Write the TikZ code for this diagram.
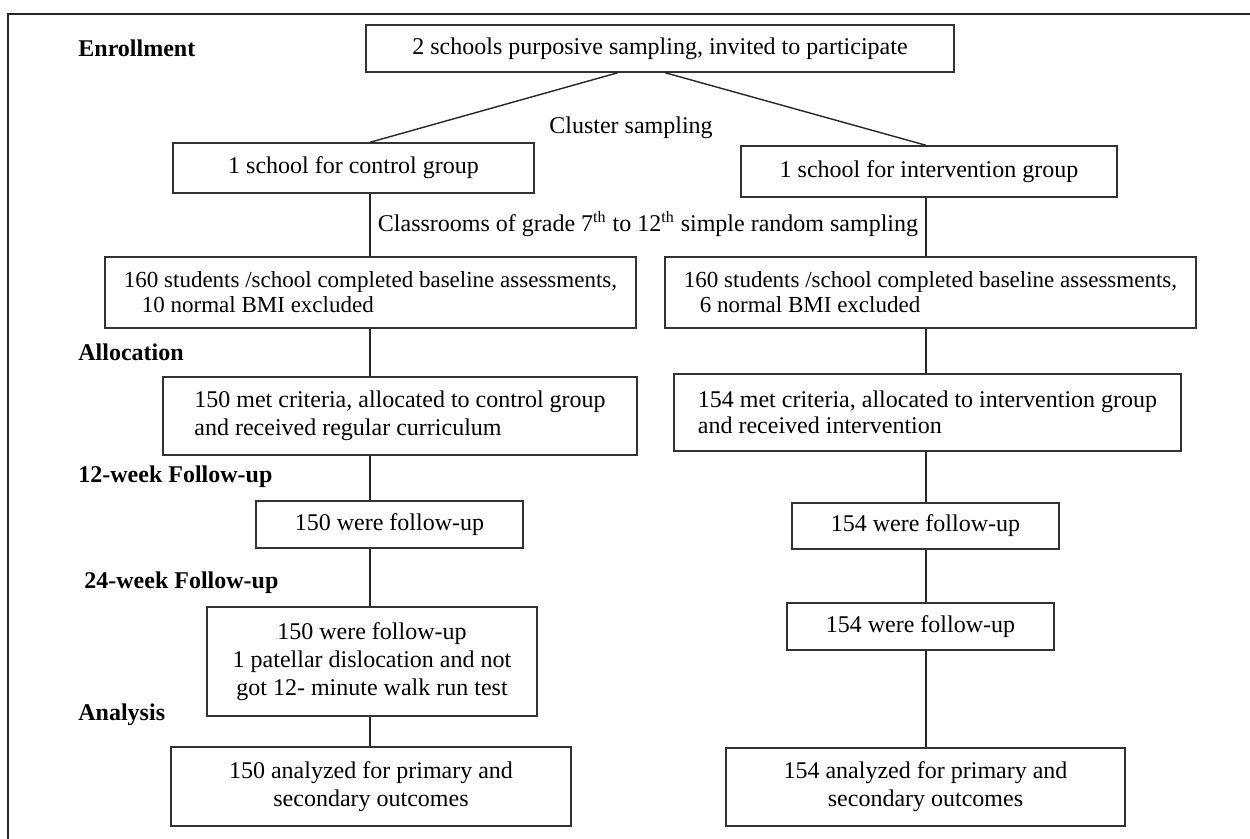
\documentclass[tikz,border=0pt]{standalone}
\usepackage{fontspec}
\setmainfont{Liberation Serif}
\begin{document}
\begin{tikzpicture}[x=0.5pt,y=-0.5pt,font=\fontsize{12}{14}\selectfont,
  bx/.style={draw=black!80,line width=0.7pt,inner sep=0pt,align=center},
  lf/.style={bx,align=left},
  lb/.style={anchor=west,inner sep=0pt,font=\fontsize{12}{14}\selectfont\bfseries},
  ln/.style={black!85,line width=0.7pt}]
\useasboundingbox (0,0) rectangle (1250,839);
\draw[ln] (8,839) -- (8,14) -- (1250,14);
\coordinate(sc)at(370,0);
\coordinate(si)at(926,0);
\node[lb](enr)at(78,48){Enrollment};
\node[lb](alc)at(78,352){Allocation};
\node[lb](fu12)at(78,477){12-week Follow-up};
\node[lb](fu24)at(84,583){24-week Follow-up};
\node[lb](ana)at(78,715){Analysis};
\node[bx,minimum width=294pt,minimum height=23.5pt](top)at(660,48.5){2 schools purposive sampling, invited to participate};
\node[inner sep=0pt](cls)at(631,128){Cluster sampling};
\node[bx,minimum width=180.5pt,minimum height=25pt](c1)at(353.5,168){1 school for control group};
\node[bx,minimum width=188pt,minimum height=25.5pt](i1)at(929,171.5){1 school for intervention group};
\node[inner sep=0pt](rnd)at(648,224){Classrooms of grade 7\textsuperscript{th} to 12\textsuperscript{th} simple random sampling};
\node[lf,font=\fontsize{11.5}{12.5}\selectfont,minimum width=265.5pt,minimum height=35.5pt](c2)at(370.5,292.5){160 students /school completed baseline assessments,\\\hspace{9pt}10 normal BMI excluded};
\node[lf,font=\fontsize{11.5}{12.5}\selectfont,minimum width=265.5pt,minimum height=35.5pt](i2)at(930.5,292.5){160 students /school completed baseline assessments,\\\hspace{8pt}6 normal BMI excluded};
\node[lf,minimum width=237pt,minimum height=39pt](c3)at(400,416){150 met criteria, allocated to control group\\and received regular curriculum\hspace*{12pt}};
\node[lf,font=\fontsize{12}{13}\selectfont,minimum width=253.5pt,minimum height=38.5pt](i3)at(927.5,412.5){154 met criteria, allocated to intervention group\\and received intervention};
\node[bx,minimum width=133.5pt,minimum height=23.5pt](c4)at(389.5,524.5){150 were follow-up};
\node[bx,minimum width=133.5pt,minimum height=23pt](i4)at(925.5,526){154 were follow-up};
\node[bx,minimum width=165pt,minimum height=54.5pt](c5)at(372,661.5){150 were follow-up\\1 patellar dislocation and not\\got 12- minute walk run test};
\node[bx,minimum width=133.5pt,minimum height=23.5pt](i5)at(920.5,626.5){154 were follow-up};
\node[bx,minimum width=200pt,minimum height=39.5pt](c6)at(371,786.5){150 analyzed for primary and\\secondary outcomes};
\node[bx,minimum width=199.5pt,minimum height=39pt](i6)at(925.5,787){154 analyzed for primary and\\secondary outcomes};
\draw[ln] ([xshift=-21pt]top.south) -- (c1.north -| sc);
\draw[ln] ([xshift=2.5pt]top.south) -- (i1.north -| si);
\foreach \a/\b in {1/2,2/3,3/4,4/5,5/6}{
  \draw[ln] (c\a.south -| sc) -- (c\b.north -| sc);
  \draw[ln] (i\a.south -| si) -- (i\b.north -| si);}
\end{tikzpicture}
\end{document}
